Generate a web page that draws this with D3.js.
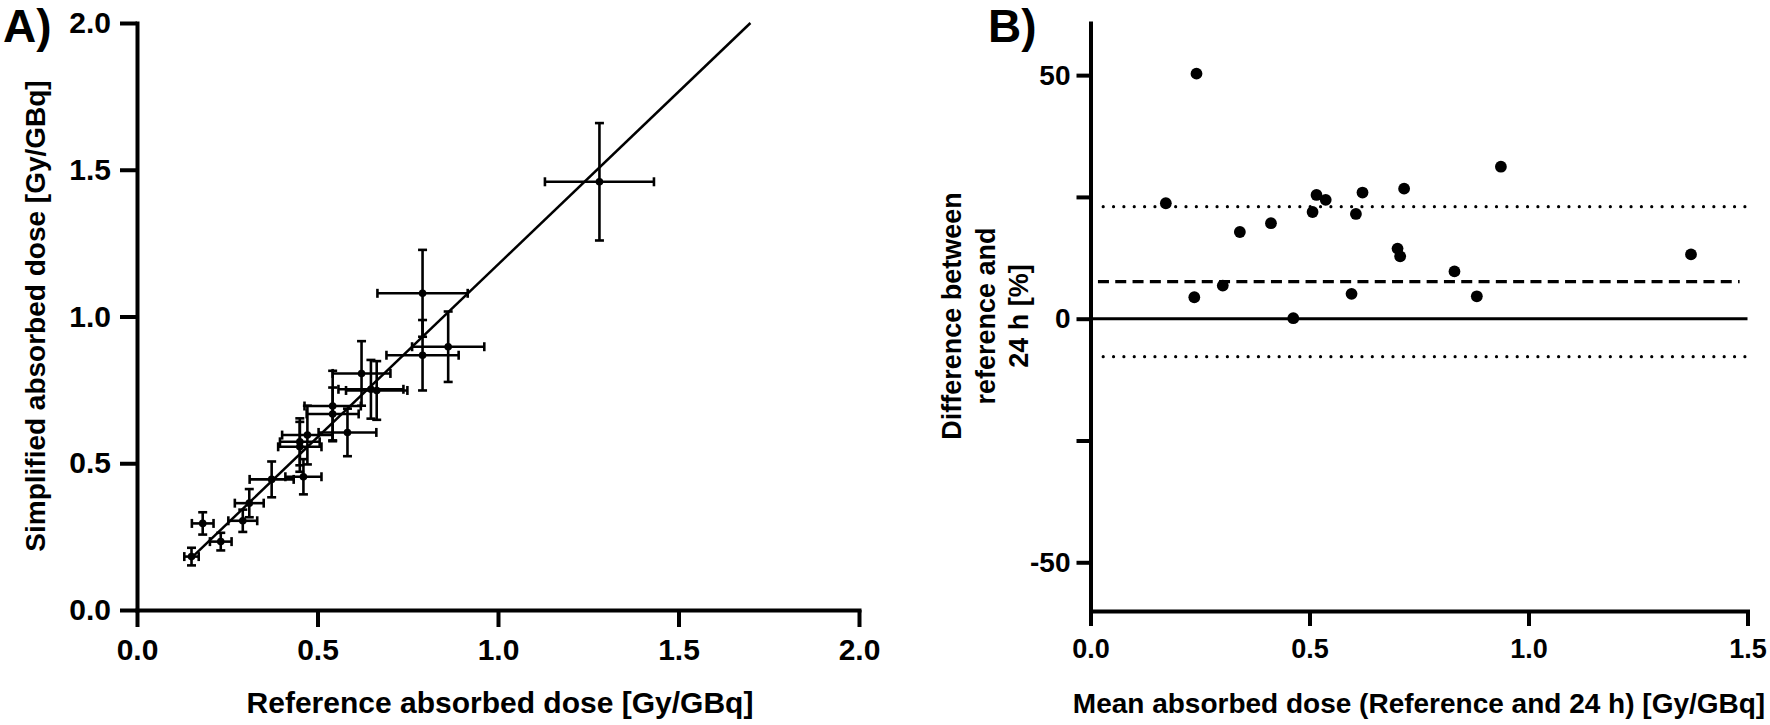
<!DOCTYPE html>
<html><head><meta charset="utf-8">
<script src="https://cdn.jsdelivr.net/npm/d3@7"></script>
<style>
body{margin:0;background:#fff}
svg{display:block}
text{font-family:"Liberation Sans",Arial,Helvetica,sans-serif;font-weight:bold;fill:#000}
</style>
</head><body>
<svg id="chart" width="1770" height="725"></svg>
<script>
// ---------- Panel A data ----------
const refDose  = [0.151,0.182,0.232,0.293,0.311,0.373,0.461,0.451,0.451,0.472,0.542,0.542,0.583,0.648,0.664,0.622,0.791,0.862,0.791,1.281];
const refErr   = [0.020,0.030,0.030,0.040,0.040,0.061,0.050,0.055,0.060,0.070,0.078,0.072,0.080,0.090,0.085,0.080,0.125,0.100,0.100,0.151];
const simpDose = [0.182,0.295,0.233,0.304,0.364,0.445,0.454,0.573,0.556,0.596,0.695,0.668,0.605,0.752,0.748,0.806,1.079,0.897,0.868,1.459];
const simpErr  = [0.030,0.038,0.030,0.038,0.048,0.061,0.060,0.080,0.085,0.100,0.120,0.090,0.081,0.100,0.100,0.110,0.148,0.120,0.120,0.200];
const regSlope = [1.177];
const regIntercept = [0];
const regXStart = [0.15];
const ticksA = [0, 0.5, 1.0, 1.5, 2.0];
const tickLabelsA = ["0.0","0.5","1.0","1.5","2.0"];

// ---------- Panel B data ----------
const meanDose = [0.172,0.242,0.237,0.302,0.341,0.412,0.463,0.507,0.516,0.537,0.596,0.606,0.621,0.701,0.707,0.716,0.831,0.882,0.937,1.371];
const diffPct  = [23.7,50.3,4.4,6.8,17.8,19.6,0.1,21.9,25.4,24.4,5.1,21.5,25.9,14.4,12.8,26.7,9.7,4.6,31.2,13.2];
const biasLine = [7.6];
const loaLines = [23.0, -7.8];
const zeroLine = [0];
const ticksBx = [0, 0.5, 1.0, 1.5];
const tickLabelsBx = ["0.0","0.5","1.0","1.5"];
const ticksBy = [-50, -25, 0, 25, 50];
const tickLabelsBy = ["-50", "", "0", "", "50"];

const svg = d3.select("#chart");

function styleAxis(g, fs){
  g.select(".domain").attr("stroke","#000").attr("stroke-width",4).attr("stroke-linecap","square");
  g.selectAll(".tick line").attr("stroke","#000").attr("stroke-width",4);
  g.selectAll(".tick text").attr("font-size",fs).attr("fill","#000")
    .attr("font-family","'Liberation Sans',Arial,sans-serif").attr("font-weight","bold");
}

// ================= Panel A =================
const xA = d3.scaleLinear().domain([0,2]).range([137,859]);
const yA = d3.scaleLinear().domain([0,2]).range([610,23]);

const gAx = svg.append("g").attr("transform","translate(0,610)")
  .call(d3.axisBottom(xA).tickValues(ticksA).tickFormat((d,i)=>tickLabelsA[i]).tickSize(17).tickSizeOuter(0).tickPadding(12));
styleAxis(gAx, 30);
const gAy = svg.append("g").attr("transform","translate(137,0)")
  .call(d3.axisLeft(yA).tickValues(ticksA).tickFormat((d,i)=>tickLabelsA[i]).tickSize(17).tickSizeOuter(0).tickPadding(9));
styleAxis(gAy, 30);

// regression line
const regEnd = Math.min(2, (2 - regIntercept[0]) / regSlope[0]);
svg.append("line")
  .attr("x1", xA(regXStart[0])).attr("y1", yA(regSlope[0]*regXStart[0]+regIntercept[0]))
  .attr("x2", xA(regEnd)).attr("y2", yA(regSlope[0]*regEnd+regIntercept[0]))
  .attr("stroke","#000").attr("stroke-width",2.5);

const cap = 4.5;
const gE = svg.append("g").attr("stroke","#000").attr("stroke-width",2.6);
refDose.forEach((r,i)=>{
  const s = simpDose[i];
  const x0 = xA(r-refErr[i]), x1 = xA(r+refErr[i]), yy = yA(s);
  const y0 = yA(s-simpErr[i]), y1 = yA(s+simpErr[i]), xx = xA(r);
  gE.append("line").attr("x1",x0).attr("x2",x1).attr("y1",yy).attr("y2",yy);
  gE.append("line").attr("x1",x0).attr("x2",x0).attr("y1",yy-cap).attr("y2",yy+cap);
  gE.append("line").attr("x1",x1).attr("x2",x1).attr("y1",yy-cap).attr("y2",yy+cap);
  gE.append("line").attr("x1",xx).attr("x2",xx).attr("y1",y0).attr("y2",y1);
  gE.append("line").attr("x1",xx-cap).attr("x2",xx+cap).attr("y1",y0).attr("y2",y0);
  gE.append("line").attr("x1",xx-cap).attr("x2",xx+cap).attr("y1",y1).attr("y2",y1);
});
svg.append("g").selectAll("circle").data(refDose).join("circle")
  .attr("cx",d=>xA(d)).attr("cy",(d,i)=>yA(simpDose[i])).attr("r",3.8).attr("fill","#000");

svg.append("text").attr("x",500).attr("y",713).attr("text-anchor","middle").attr("font-size",30)
  .text("Reference absorbed dose [Gy/GBq]");
svg.append("text").attr("transform","translate(45,316) rotate(-90)").attr("text-anchor","middle").attr("font-size",28)
  .text("Simplified absorbed dose [Gy/GBq]");
svg.append("text").attr("x",3).attr("y",42).attr("font-size",46).text("A)");

// ================= Panel B =================
const xB = d3.scaleLinear().domain([0,1.5]).range([1090.5,1747.5]);
const yB = d3.scaleLinear().domain([-60,60.7]).range([611,23]);

const gBx = svg.append("g").attr("transform","translate(0,611)")
  .call(d3.axisBottom(xB).tickValues(ticksBx).tickFormat((d,i)=>tickLabelsBx[i]).tickSize(15).tickSizeOuter(0).tickPadding(13));
styleAxis(gBx, 27);
const gBy = svg.append("g").attr("transform","translate(1090.5,0)")
  .call(d3.axisLeft(yB).tickValues(ticksBy).tickFormat((d,i)=>tickLabelsBy[i]).tickSize(14).tickSizeOuter(0).tickPadding(6));
styleAxis(gBy, 28);

// reference lines
svg.append("line").datum(zeroLine[0])
  .attr("x1",xB(0)).attr("x2",xB(1.5)).attr("y1",d=>yB(d)).attr("y2",d=>yB(d))
  .attr("stroke","#000").attr("stroke-width",3);
svg.append("line").datum(biasLine[0])
  .attr("x1",xB(0.017)).attr("x2",xB(1.482)).attr("y1",d=>yB(d)).attr("y2",d=>yB(d))
  .attr("stroke","#000").attr("stroke-width",3.2).attr("stroke-dasharray","11,6.3");
svg.append("g").selectAll("line").data(loaLines).join("line")
  .attr("x1",xB(0.029)).attr("x2",xB(1.5)).attr("y1",d=>yB(d)).attr("y2",d=>yB(d))
  .attr("stroke","#000").attr("stroke-width",3.2).attr("stroke-linecap","round").attr("stroke-dasharray","0,10.35");

svg.append("g").selectAll("circle").data(meanDose).join("circle")
  .attr("cx",d=>xB(d)).attr("cy",(d,i)=>yB(diffPct[i])).attr("r",5.9).attr("fill","#000");

svg.append("text").attr("x",1419).attr("y",713).attr("text-anchor","middle").attr("font-size",28)
  .text("Mean absorbed dose (Reference and 24 h) [Gy/GBq]");
const yTitleB = ["Difference between","reference and","24 h [%]"];
svg.append("g").selectAll("text").data(yTitleB).join("text")
  .attr("transform",(d,i)=>`translate(${961+i*33.5},316) rotate(-90)`)
  .attr("text-anchor","middle").attr("font-size",27).text(d=>d);
svg.append("text").attr("x",988).attr("y",42).attr("font-size",46).text("B)");
</script>
</body></html>
